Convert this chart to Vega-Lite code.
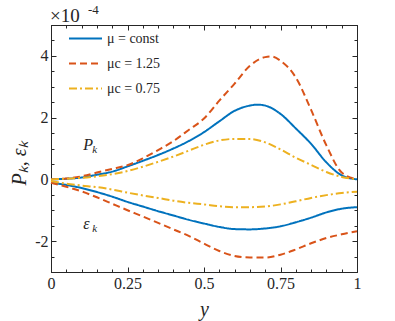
{
  "$schema": "https://vega.github.io/schema/vega-lite/v6.json",
  "autosize": {"type": "none"},
  "width": 306,
  "height": 247,
  "padding": {"left": 51, "top": 25, "right": 38, "bottom": 49},
  "background": "white",
  "config": {
    "view": {"stroke": "#262626", "strokeWidth": 1},
    "axis": {"grid": false, "domainColor": "#262626", "tickColor": "#262626", "labelColor": "#262626", "labelFont": "Liberation Serif", "labelFontSize": 16, "titleFont": "Liberation Serif", "titleColor": "#262626", "titleFontWeight": "normal"},
    "legend": {"labelFont": "Liberation Serif", "labelFontSize": 14, "labelColor": "#262626"}
  },
  "datasets": {
    "curves": [
      {"pos": 0, "val": 0, "series": "μ = const", "kind": "P"},
      {"pos": 0.05, "val": 0.02, "series": "μ = const", "kind": "P"},
      {"pos": 0.1, "val": 0.06, "series": "μ = const", "kind": "P"},
      {"pos": 0.15, "val": 0.15, "series": "μ = const", "kind": "P"},
      {"pos": 0.2, "val": 0.25, "series": "μ = const", "kind": "P"},
      {"pos": 0.25, "val": 0.42, "series": "μ = const", "kind": "P"},
      {"pos": 0.3, "val": 0.6, "series": "μ = const", "kind": "P"},
      {"pos": 0.35, "val": 0.79, "series": "μ = const", "kind": "P"},
      {"pos": 0.4, "val": 1.0, "series": "μ = const", "kind": "P"},
      {"pos": 0.45, "val": 1.24, "series": "μ = const", "kind": "P"},
      {"pos": 0.5, "val": 1.53, "series": "μ = const", "kind": "P"},
      {"pos": 0.55, "val": 1.88, "series": "μ = const", "kind": "P"},
      {"pos": 0.6, "val": 2.22, "series": "μ = const", "kind": "P"},
      {"pos": 0.65, "val": 2.39, "series": "μ = const", "kind": "P"},
      {"pos": 0.675, "val": 2.42, "series": "μ = const", "kind": "P"},
      {"pos": 0.7, "val": 2.39, "series": "μ = const", "kind": "P"},
      {"pos": 0.75, "val": 2.12, "series": "μ = const", "kind": "P"},
      {"pos": 0.8, "val": 1.65, "series": "μ = const", "kind": "P"},
      {"pos": 0.85, "val": 1.15, "series": "μ = const", "kind": "P"},
      {"pos": 0.9, "val": 0.55, "series": "μ = const", "kind": "P"},
      {"pos": 0.95, "val": 0.13, "series": "μ = const", "kind": "P"},
      {"pos": 1.0, "val": 0, "series": "μ = const", "kind": "P"},
      {"pos": 0, "val": -0.11, "series": "μ = const", "kind": "eps"},
      {"pos": 0.05, "val": -0.18, "series": "μ = const", "kind": "eps"},
      {"pos": 0.1, "val": -0.28, "series": "μ = const", "kind": "eps"},
      {"pos": 0.15, "val": -0.41, "series": "μ = const", "kind": "eps"},
      {"pos": 0.2, "val": -0.56, "series": "μ = const", "kind": "eps"},
      {"pos": 0.25, "val": -0.73, "series": "μ = const", "kind": "eps"},
      {"pos": 0.3, "val": -0.88, "series": "μ = const", "kind": "eps"},
      {"pos": 0.35, "val": -1.03, "series": "μ = const", "kind": "eps"},
      {"pos": 0.4, "val": -1.17, "series": "μ = const", "kind": "eps"},
      {"pos": 0.45, "val": -1.31, "series": "μ = const", "kind": "eps"},
      {"pos": 0.5, "val": -1.43, "series": "μ = const", "kind": "eps"},
      {"pos": 0.55, "val": -1.54, "series": "μ = const", "kind": "eps"},
      {"pos": 0.6, "val": -1.61, "series": "μ = const", "kind": "eps"},
      {"pos": 0.65, "val": -1.62, "series": "μ = const", "kind": "eps"},
      {"pos": 0.7, "val": -1.59, "series": "μ = const", "kind": "eps"},
      {"pos": 0.75, "val": -1.52, "series": "μ = const", "kind": "eps"},
      {"pos": 0.8, "val": -1.39, "series": "μ = const", "kind": "eps"},
      {"pos": 0.85, "val": -1.24, "series": "μ = const", "kind": "eps"},
      {"pos": 0.9, "val": -1.07, "series": "μ = const", "kind": "eps"},
      {"pos": 0.95, "val": -0.95, "series": "μ = const", "kind": "eps"},
      {"pos": 1.0, "val": -0.9, "series": "μ = const", "kind": "eps"},
      {"pos": 0, "val": 0, "series": "μc = 1.25", "kind": "P"},
      {"pos": 0.05, "val": 0.03, "series": "μc = 1.25", "kind": "P"},
      {"pos": 0.1, "val": 0.1, "series": "μc = 1.25", "kind": "P"},
      {"pos": 0.15, "val": 0.22, "series": "μc = 1.25", "kind": "P"},
      {"pos": 0.2, "val": 0.34, "series": "μc = 1.25", "kind": "P"},
      {"pos": 0.25, "val": 0.46, "series": "μc = 1.25", "kind": "P"},
      {"pos": 0.3, "val": 0.68, "series": "μc = 1.25", "kind": "P"},
      {"pos": 0.35, "val": 0.95, "series": "μc = 1.25", "kind": "P"},
      {"pos": 0.4, "val": 1.24, "series": "μc = 1.25", "kind": "P"},
      {"pos": 0.45, "val": 1.6, "series": "μc = 1.25", "kind": "P"},
      {"pos": 0.5, "val": 1.97, "series": "μc = 1.25", "kind": "P"},
      {"pos": 0.55, "val": 2.55, "series": "μc = 1.25", "kind": "P"},
      {"pos": 0.6, "val": 3.1, "series": "μc = 1.25", "kind": "P"},
      {"pos": 0.65, "val": 3.68, "series": "μc = 1.25", "kind": "P"},
      {"pos": 0.7, "val": 3.96, "series": "μc = 1.25", "kind": "P"},
      {"pos": 0.72, "val": 3.98, "series": "μc = 1.25", "kind": "P"},
      {"pos": 0.75, "val": 3.84, "series": "μc = 1.25", "kind": "P"},
      {"pos": 0.8, "val": 3.3, "series": "μc = 1.25", "kind": "P"},
      {"pos": 0.85, "val": 2.25, "series": "μc = 1.25", "kind": "P"},
      {"pos": 0.9, "val": 1.1, "series": "μc = 1.25", "kind": "P"},
      {"pos": 0.95, "val": 0.22, "series": "μc = 1.25", "kind": "P"},
      {"pos": 1.0, "val": 0, "series": "μc = 1.25", "kind": "P"},
      {"pos": 0, "val": -0.11, "series": "μc = 1.25", "kind": "eps"},
      {"pos": 0.05, "val": -0.24, "series": "μc = 1.25", "kind": "eps"},
      {"pos": 0.1, "val": -0.39, "series": "μc = 1.25", "kind": "eps"},
      {"pos": 0.15, "val": -0.58, "series": "μc = 1.25", "kind": "eps"},
      {"pos": 0.2, "val": -0.79, "series": "μc = 1.25", "kind": "eps"},
      {"pos": 0.25, "val": -1.0, "series": "μc = 1.25", "kind": "eps"},
      {"pos": 0.3, "val": -1.2, "series": "μc = 1.25", "kind": "eps"},
      {"pos": 0.35, "val": -1.41, "series": "μc = 1.25", "kind": "eps"},
      {"pos": 0.4, "val": -1.62, "series": "μc = 1.25", "kind": "eps"},
      {"pos": 0.45, "val": -1.83, "series": "μc = 1.25", "kind": "eps"},
      {"pos": 0.5, "val": -2.08, "series": "μc = 1.25", "kind": "eps"},
      {"pos": 0.55, "val": -2.32, "series": "μc = 1.25", "kind": "eps"},
      {"pos": 0.6, "val": -2.48, "series": "μc = 1.25", "kind": "eps"},
      {"pos": 0.65, "val": -2.53, "series": "μc = 1.25", "kind": "eps"},
      {"pos": 0.7, "val": -2.53, "series": "μc = 1.25", "kind": "eps"},
      {"pos": 0.75, "val": -2.44, "series": "μc = 1.25", "kind": "eps"},
      {"pos": 0.8, "val": -2.27, "series": "μc = 1.25", "kind": "eps"},
      {"pos": 0.85, "val": -2.07, "series": "μc = 1.25", "kind": "eps"},
      {"pos": 0.9, "val": -1.9, "series": "μc = 1.25", "kind": "eps"},
      {"pos": 0.95, "val": -1.78, "series": "μc = 1.25", "kind": "eps"},
      {"pos": 1.0, "val": -1.68, "series": "μc = 1.25", "kind": "eps"},
      {"pos": 0, "val": 0, "series": "μc = 0.75", "kind": "P"},
      {"pos": 0.05, "val": 0.02, "series": "μc = 0.75", "kind": "P"},
      {"pos": 0.1, "val": 0.05, "series": "μc = 0.75", "kind": "P"},
      {"pos": 0.15, "val": 0.1, "series": "μc = 0.75", "kind": "P"},
      {"pos": 0.2, "val": 0.17, "series": "μc = 0.75", "kind": "P"},
      {"pos": 0.25, "val": 0.27, "series": "μc = 0.75", "kind": "P"},
      {"pos": 0.3, "val": 0.41, "series": "μc = 0.75", "kind": "P"},
      {"pos": 0.35, "val": 0.57, "series": "μc = 0.75", "kind": "P"},
      {"pos": 0.4, "val": 0.74, "series": "μc = 0.75", "kind": "P"},
      {"pos": 0.45, "val": 0.93, "series": "μc = 0.75", "kind": "P"},
      {"pos": 0.5, "val": 1.12, "series": "μc = 0.75", "kind": "P"},
      {"pos": 0.55, "val": 1.26, "series": "μc = 0.75", "kind": "P"},
      {"pos": 0.6, "val": 1.31, "series": "μc = 0.75", "kind": "P"},
      {"pos": 0.65, "val": 1.31, "series": "μc = 0.75", "kind": "P"},
      {"pos": 0.7, "val": 1.2, "series": "μc = 0.75", "kind": "P"},
      {"pos": 0.75, "val": 0.97, "series": "μc = 0.75", "kind": "P"},
      {"pos": 0.8, "val": 0.7, "series": "μc = 0.75", "kind": "P"},
      {"pos": 0.85, "val": 0.47, "series": "μc = 0.75", "kind": "P"},
      {"pos": 0.9, "val": 0.24, "series": "μc = 0.75", "kind": "P"},
      {"pos": 0.95, "val": 0.08, "series": "μc = 0.75", "kind": "P"},
      {"pos": 1.0, "val": 0, "series": "μc = 0.75", "kind": "P"},
      {"pos": 0, "val": -0.05, "series": "μc = 0.75", "kind": "eps"},
      {"pos": 0.05, "val": -0.14, "series": "μc = 0.75", "kind": "eps"},
      {"pos": 0.1, "val": -0.2, "series": "μc = 0.75", "kind": "eps"},
      {"pos": 0.15, "val": -0.25, "series": "μc = 0.75", "kind": "eps"},
      {"pos": 0.2, "val": -0.33, "series": "μc = 0.75", "kind": "eps"},
      {"pos": 0.25, "val": -0.43, "series": "μc = 0.75", "kind": "eps"},
      {"pos": 0.3, "val": -0.52, "series": "μc = 0.75", "kind": "eps"},
      {"pos": 0.35, "val": -0.6, "series": "μc = 0.75", "kind": "eps"},
      {"pos": 0.4, "val": -0.69, "series": "μc = 0.75", "kind": "eps"},
      {"pos": 0.45, "val": -0.76, "series": "μc = 0.75", "kind": "eps"},
      {"pos": 0.5, "val": -0.81, "series": "μc = 0.75", "kind": "eps"},
      {"pos": 0.55, "val": -0.87, "series": "μc = 0.75", "kind": "eps"},
      {"pos": 0.6, "val": -0.9, "series": "μc = 0.75", "kind": "eps"},
      {"pos": 0.65, "val": -0.9, "series": "μc = 0.75", "kind": "eps"},
      {"pos": 0.7, "val": -0.88, "series": "μc = 0.75", "kind": "eps"},
      {"pos": 0.75, "val": -0.81, "series": "μc = 0.75", "kind": "eps"},
      {"pos": 0.8, "val": -0.71, "series": "μc = 0.75", "kind": "eps"},
      {"pos": 0.85, "val": -0.6, "series": "μc = 0.75", "kind": "eps"},
      {"pos": 0.9, "val": -0.51, "series": "μc = 0.75", "kind": "eps"},
      {"pos": 0.95, "val": -0.44, "series": "μc = 0.75", "kind": "eps"},
      {"pos": 1.0, "val": -0.4, "series": "μc = 0.75", "kind": "eps"}
    ],
    "labels": [
      {"pos": 0.105, "val": 0.95, "main": "P", "sub": "k"},
      {"pos": 0.105, "val": -1.62, "main": "ε", "sub": "k"}
    ],
    "exponent": [
      {"pos": 0, "val": 5, "base": "×10", "power": "-4"}
    ]
  },
  "layer": [
    {
      "mark": {"type": "rule", "strokeDash": [1, 1], "color": "#444444", "strokeWidth": 1},
      "encoding": {
        "y": {"datum": 0, "type": "quantitative", "scale": {"domain": [-3, 5], "nice": false}, "axis": null}
      }
    },
    {
      "data": {"name": "curves"},
      "mark": {"type": "line", "strokeWidth": 2, "interpolate": "monotone"},
      "encoding": {
        "x": {
          "field": "pos", "type": "quantitative",
          "scale": {"domain": [0, 1], "nice": false},
          "axis": {
            "orient": "bottom", "title": "y", "titleFontStyle": "italic", "titleFontSize": 20,
            "titleY": 43, "titleBaseline": "alphabetic",
            "values": [0,0.05,0.1,0.15,0.2,0.25,0.3,0.35,0.4,0.45,0.5,0.55,0.6,0.65,0.7,0.75,0.8,0.85,0.9,0.95,1],
            "labelExpr": "abs(datum.value*4 - round(datum.value*4)) < 0.001 ? format(datum.value, '~g') : ''",
            "tickSize": {"condition": {"test": "abs(datum.value*4 - round(datum.value*4)) < 0.001", "value": -5}, "value": -3},
            "labelPadding": 8, "labelFlush": false, "labelOverlap": false
          }
        },
        "y": {
          "field": "val", "type": "quantitative",
          "scale": {"domain": [-3, 5], "nice": false},
          "axis": {
            "orient": "left", "title": "Pₖ, εₖ", "titleFontStyle": "italic", "titleFontSize": 20,
            "titleX": -32, "titleY": 138, "titleAngle": 270, "titleAlign": "center", "titleBaseline": "middle",
            "values": [-3,-2.5,-2,-1.5,-1,-0.5,0,0.5,1,1.5,2,2.5,3,3.5,4,4.5,5],
            "labelExpr": "datum.value % 2 == 0 ? '' + datum.value : ''",
            "tickSize": {"condition": {"test": "datum.value % 2 == 0", "value": -5}, "value": -3},
            "labelPadding": 8, "labelFlush": false, "labelOverlap": false
          }
        },
        "color": {
          "field": "series", "type": "nominal",
          "scale": {"domain": ["μ = const", "μc = 1.25", "μc = 0.75"], "range": ["#0072BD", "#D95319", "#EDB120"]},
          "legend": {
            "orient": "none", "legendX": 17, "legendY": -4, "title": null,
            "symbolType": "stroke", "symbolSize": 1089, "symbolStrokeWidth": 2,
            "labelFont": "Liberation Serif", "labelFontSize": 14, "labelColor": "#262626",
            "labelOffset": 4, "rowPadding": -21, "padding": 0
          }
        },
        "strokeDash": {
          "field": "series", "type": "nominal",
          "scale": {"domain": ["μ = const", "μc = 1.25", "μc = 0.75"], "range": [[1, 0], [7, 4], [8, 3, 2, 3]]}
        },
        "detail": {"field": "kind"}
      }
    },
    {
      "data": {"name": "curves"},
      "mark": {"type": "point", "opacity": 0},
      "encoding": {
        "x": {
          "field": "pos", "type": "quantitative", "scale": {"domain": [0, 1], "nice": false},
          "axis": {
            "orient": "top", "title": null, "labels": false,
            "values": [0,0.05,0.1,0.15,0.2,0.25,0.3,0.35,0.4,0.45,0.5,0.55,0.6,0.65,0.7,0.75,0.8,0.85,0.9,0.95,1],
            "tickSize": {"condition": {"test": "abs(datum.value*4 - round(datum.value*4)) < 0.001", "value": -5}, "value": -3}
          }
        },
        "y": {
          "field": "val", "type": "quantitative", "scale": {"domain": [-3, 5], "nice": false},
          "axis": {
            "orient": "right", "title": null, "labels": false,
            "values": [-3,-2.5,-2,-1.5,-1,-0.5,0,0.5,1,1.5,2,2.5,3,3.5,4,4.5,5],
            "tickSize": {"condition": {"test": "datum.value % 2 == 0", "value": -5}, "value": -3}
          }
        }
      }
    },
    {
      "data": {"name": "labels"},
      "mark": {"type": "text", "font": "Liberation Serif", "fontSize": 16, "fontStyle": "italic", "align": "left", "baseline": "alphabetic", "color": "#262626"},
      "encoding": {
        "x": {"field": "pos", "type": "quantitative", "axis": null},
        "y": {"field": "val", "type": "quantitative", "axis": null},
        "text": {"field": "main"}
      }
    },
    {
      "data": {"name": "labels"},
      "mark": {"type": "text", "font": "Liberation Serif", "fontSize": 11, "fontStyle": "italic", "align": "left", "baseline": "alphabetic", "color": "#262626", "dx": 9, "dy": 3},
      "encoding": {
        "x": {"field": "pos", "type": "quantitative", "axis": null},
        "y": {"field": "val", "type": "quantitative", "axis": null},
        "text": {"field": "sub"}
      }
    },
    {
      "data": {"name": "exponent"},
      "mark": {"type": "text", "font": "Liberation Serif", "fontSize": 19, "align": "left", "baseline": "alphabetic", "color": "#262626", "dx": -1, "dy": -3},
      "encoding": {
        "x": {"field": "pos", "type": "quantitative", "axis": null},
        "y": {"field": "val", "type": "quantitative", "axis": null},
        "text": {"field": "base"}
      }
    },
    {
      "data": {"name": "exponent"},
      "mark": {"type": "text", "font": "Liberation Serif", "fontSize": 13, "align": "left", "baseline": "alphabetic", "color": "#262626", "dx": 37, "dy": -11},
      "encoding": {
        "x": {"field": "pos", "type": "quantitative", "axis": null},
        "y": {"field": "val", "type": "quantitative", "axis": null},
        "text": {"field": "power"}
      }
    }
  ],
  "resolve": {"axis": {"x": "independent", "y": "independent"}}
}
